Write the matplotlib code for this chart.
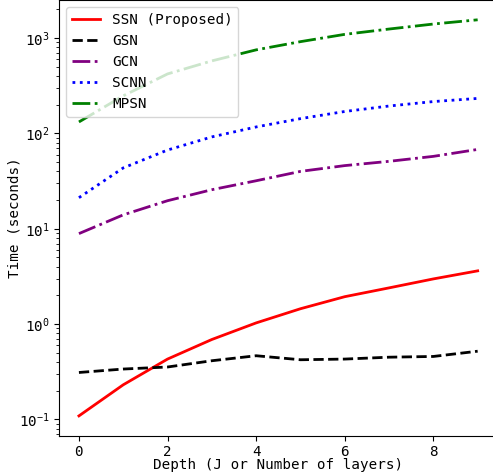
import numpy as np
import matplotlib
matplotlib.use('Agg')
import matplotlib.pyplot as plt

plt.rcParams['font.family'] = 'monospace'
plt.rcParams['font.monospace'] = ['DejaVu Sans Mono']
plt.rcParams['mathtext.fontset'] = 'custom'
plt.rcParams['mathtext.rm'] = 'DejaVu Sans Mono'
plt.rcParams['font.size'] = 10.3

# depth 0..9
depth = [0, 1, 2, 3, 4, 5, 6, 7, 8, 9]
ssn = [0.109, 0.231, 0.43, 0.69, 1.03, 1.45, 1.94, 2.4, 2.98, 3.62]
gsn = [0.311, 0.338, 0.355, 0.413, 0.466, 0.423, 0.43, 0.45, 0.458, 0.52]
gcn = [8.9, 14.0, 19.7, 25.7, 31.9, 40.0, 46.0, 51.0, 57.5, 68.0]
scnn = [21.2, 43.5, 67.0, 92.0, 117.0, 143.0, 170.0, 194.0, 216.0, 233.0]
mpsn = [132.0, 248.0, 421.0, 577.0, 753.0, 918.0, 1095.0, 1245.0, 1405.0, 1556.0]

fig = plt.figure(figsize=(4.93, 4.76), dpi=100)
ax = fig.add_axes([59/493, 40.3/476, 438.6/493, 435.7/476])

ax.plot(depth, ssn, '-', color='red', lw=2, label='SSN (Proposed)')
ax.plot(depth, gsn, '--', color='black', lw=2, label='GSN')
ax.plot(depth, gcn, '-.', color='purple', lw=2, label='GCN')
ax.plot(depth, scnn, ':', color='blue', lw=2, label='SCNN')
ax.plot(depth, mpsn, '-.', color='green', lw=2, label='MPSN')

ax.set_yscale('log')
ax.set_xlabel('Depth (J or Number of layers)', labelpad=-1)
ax.set_ylabel('Time (seconds)', labelpad=-2)
ax.legend(loc='upper left')

fig.savefig('out.png', dpi=100)
